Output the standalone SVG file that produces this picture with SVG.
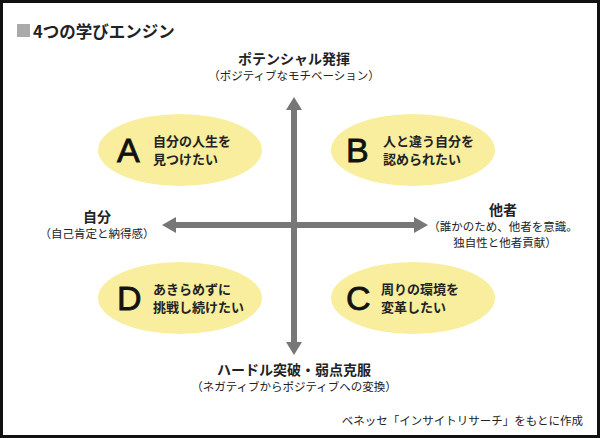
<svg xmlns="http://www.w3.org/2000/svg" width="600" height="438" viewBox="0 0 600 438">
<style>
text{font-family:"Noto Sans CJK JP","Liberation Sans",sans-serif;fill:#222}
.b{font-weight:bold}
.e{fill:#f8ee9e}
.L{font-family:"Liberation Sans",sans-serif;font-size:34px;fill:#111;stroke:#111;stroke-width:0.8}
.q{font-size:13px;font-weight:bold}
.s{font-size:11.5px}
.ax{font-size:14px;font-weight:bold}
</style>
<rect x="1.5" y="1.5" width="597" height="435" fill="#fff" stroke="#111" stroke-width="3"/>
<rect x="17" y="24" width="13" height="13" fill="#aaa"/>
<text x="33" y="38" class="b" font-size="16.5">4つの学びエンジン</text>
<g id="connectors" fill="#777">
<rect x="291" y="108" width="6" height="236"/>
<polygon points="294,97 286,110 302,110"/>
<polygon points="294,355 286,342 302,342"/>
<rect x="176" y="222" width="238" height="6"/>
<polygon points="162,225 176,217 176,233"/>
<polygon points="428,225 414,217 414,233"/>
</g>
<g id="top"><text x="294" y="64" text-anchor="middle" class="ax">ポテンシャル発揮</text><text x="294" y="80" text-anchor="middle" class="s">（ポジティブなモチベーション）</text></g>
<g id="bottom"><text x="294" y="375" text-anchor="middle" class="ax">ハードル突破・弱点克服</text><text x="294" y="391" text-anchor="middle" class="s">（ネガティブからポジティブへの変換）</text></g>
<g id="left"><text x="97" y="222" text-anchor="middle" class="ax">自分</text><text x="97" y="238" text-anchor="middle" class="s">（自己肯定と納得感）</text></g>
<g id="right"><text x="503" y="215" text-anchor="middle" class="ax">他者</text><text x="503" y="231" text-anchor="middle" class="s">（誰かのため、他者を意識。</text><text x="505" y="247" text-anchor="middle" class="s">独自性と他者貢献）</text></g>
<g id="A"><ellipse class="e" cx="180" cy="150" rx="82" ry="36"/><text x="117" y="162" class="L">A</text><text x="153" y="146" class="q">自分の人生を</text><text x="153" y="164" class="q">見つけたい</text></g>
<g id="B"><ellipse class="e" cx="413" cy="150" rx="82" ry="36"/><text x="346" y="162" class="L">B</text><text x="383" y="146" class="q">人と違う自分を</text><text x="383" y="164" class="q">認められたい</text></g>
<g id="D"><ellipse class="e" cx="180" cy="298" rx="82" ry="36"/><text x="117" y="310" class="L">D</text><text x="153" y="294" class="q">あきらめずに</text><text x="153" y="312" class="q">挑戦し続けたい</text></g>
<g id="C"><ellipse class="e" cx="413" cy="298" rx="82" ry="36"/><text x="346" y="310" class="L">C</text><text x="381" y="294" class="q">周りの環境を</text><text x="381" y="312" class="q">変革したい</text></g>
<text x="583" y="425" text-anchor="end" font-size="11.5">ベネッセ「インサイトリサーチ」をもとに作成</text>
</svg>
